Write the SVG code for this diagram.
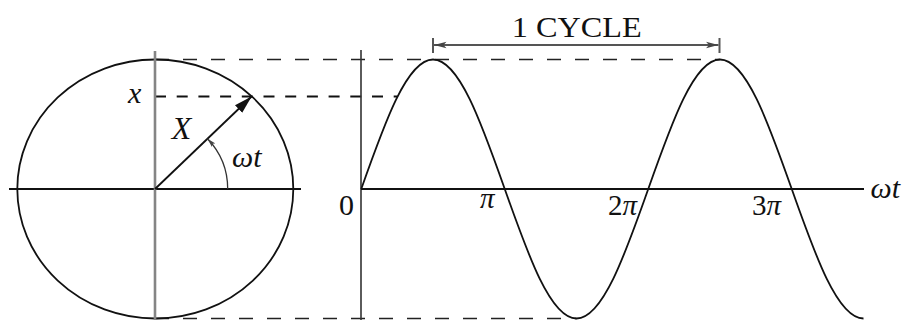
<svg xmlns="http://www.w3.org/2000/svg" width="902" height="320" viewBox="0 0 902 320">
<style>
.ln{fill:none;stroke:#111;stroke-width:1.8}
.ax{fill:none;stroke:#111;stroke-width:1.8}
.gray{fill:none;stroke:#858585;stroke-width:2.6}
.dash{fill:none;stroke:#222;stroke-width:1.6;stroke-dasharray:14 14}
.dashm{fill:none;stroke:#111;stroke-width:1.9;stroke-dasharray:11 10.7}
.dim{fill:none;stroke:#555;stroke-width:2}
.t{font-family:"Liberation Serif","DejaVu Serif",serif;fill:#111}
.i{font-style:italic}
</style>
<defs>
<marker id="head" markerUnits="userSpaceOnUse" viewBox="0 0 18 12" markerWidth="18" markerHeight="12" refX="18" refY="6" orient="auto">
<path d="M0,0.8 L18,6 L0,11.2 Z" fill="#111"/>
</marker>
<marker id="dimHead" markerUnits="userSpaceOnUse" viewBox="0 0 13 8" markerWidth="13" markerHeight="8" refX="12.5" refY="4" orient="auto-start-reverse">
<path d="M0,0.8 L12.5,4 L0,7.2 L3,4 Z" fill="#444"/>
</marker>
<marker id="arcHead" markerUnits="userSpaceOnUse" viewBox="0 0 9 6" markerWidth="9" markerHeight="6" refX="9" refY="3" orient="auto">
<path d="M0,0.5 L9,3 L0,5.5 L2,3 Z" fill="#444"/>
</marker>
</defs>

<g id="connectors">
<line class="dash" x1="155" y1="59.5" x2="720" y2="59.5"/>
<line class="dashm" x1="155" y1="96.5" x2="397.6" y2="96.5"/>
<line class="dash" x1="155" y1="318.5" x2="576.5" y2="318.5"/>
</g>

<g id="phasor">
<ellipse class="ln" cx="155.3" cy="189" rx="138" ry="129.5"/>
<line class="ax" x1="9" y1="189" x2="301" y2="189"/>
<line class="gray" x1="155" y1="51" x2="155" y2="320"/>
<line class="ln" x1="155" y1="189" x2="251.6" y2="96.5" marker-end="url(#head)"/>
<path d="M227.7,189 A72.7,72.7 0 0 0 207.5,138.7" fill="none" stroke="#333" stroke-width="1.3" marker-end="url(#arcHead)"/>
<text class="t i" x="128" y="103" font-size="30">x</text>
<text class="t i" x="181.5" y="139" font-size="32" text-anchor="middle">X</text>
<text class="t i" x="232" y="167" font-size="30">ωt</text>
</g>

<g id="sine-plot">
<line x1="361" y1="50" x2="361" y2="320" stroke="#333" stroke-width="1.6"/>
<line class="ax" x1="361" y1="189" x2="864" y2="189"/>
<path class="ln" stroke-width="2" d="M361.25,189 C384.65,122.66 407.04,59.5 433,59.5 C458.96,59.5 481.35,122.66 504.75,189 C528.15,255.34 550.54,318.5 576.5,318.5 C602.46,318.5 624.85,255.34 648.25,189 C671.65,122.66 694.04,59.5 720,59.5 C745.96,59.5 768.35,122.66 791.75,189 C815.15,255.34 837.54,318.5 863.5,318.5"/>
<text class="t" x="339" y="215" font-size="30">0</text>
<text class="t i" x="480" y="208" font-size="29">π</text>
<text class="t" x="608" y="215" font-size="29">2<tspan class="i">π</tspan></text>
<text class="t" x="752" y="215" font-size="29">3<tspan class="i">π</tspan></text>
<text class="t i" x="900" y="198" font-size="30" text-anchor="end">ωt</text>
</g>

<g id="cycle">
<line class="dim" x1="434" y1="45" x2="718.5" y2="45" marker-start="url(#dimHead)" marker-end="url(#dimHead)"/>
<line class="dim" x1="433" y1="38" x2="433" y2="53"/>
<line class="dim" x1="719.5" y1="38" x2="719.5" y2="53"/>
<text class="t" x="576.7" y="36.7" font-size="29" text-anchor="middle" textLength="130" lengthAdjust="spacingAndGlyphs">1 CYCLE</text>
</g>
</svg>
